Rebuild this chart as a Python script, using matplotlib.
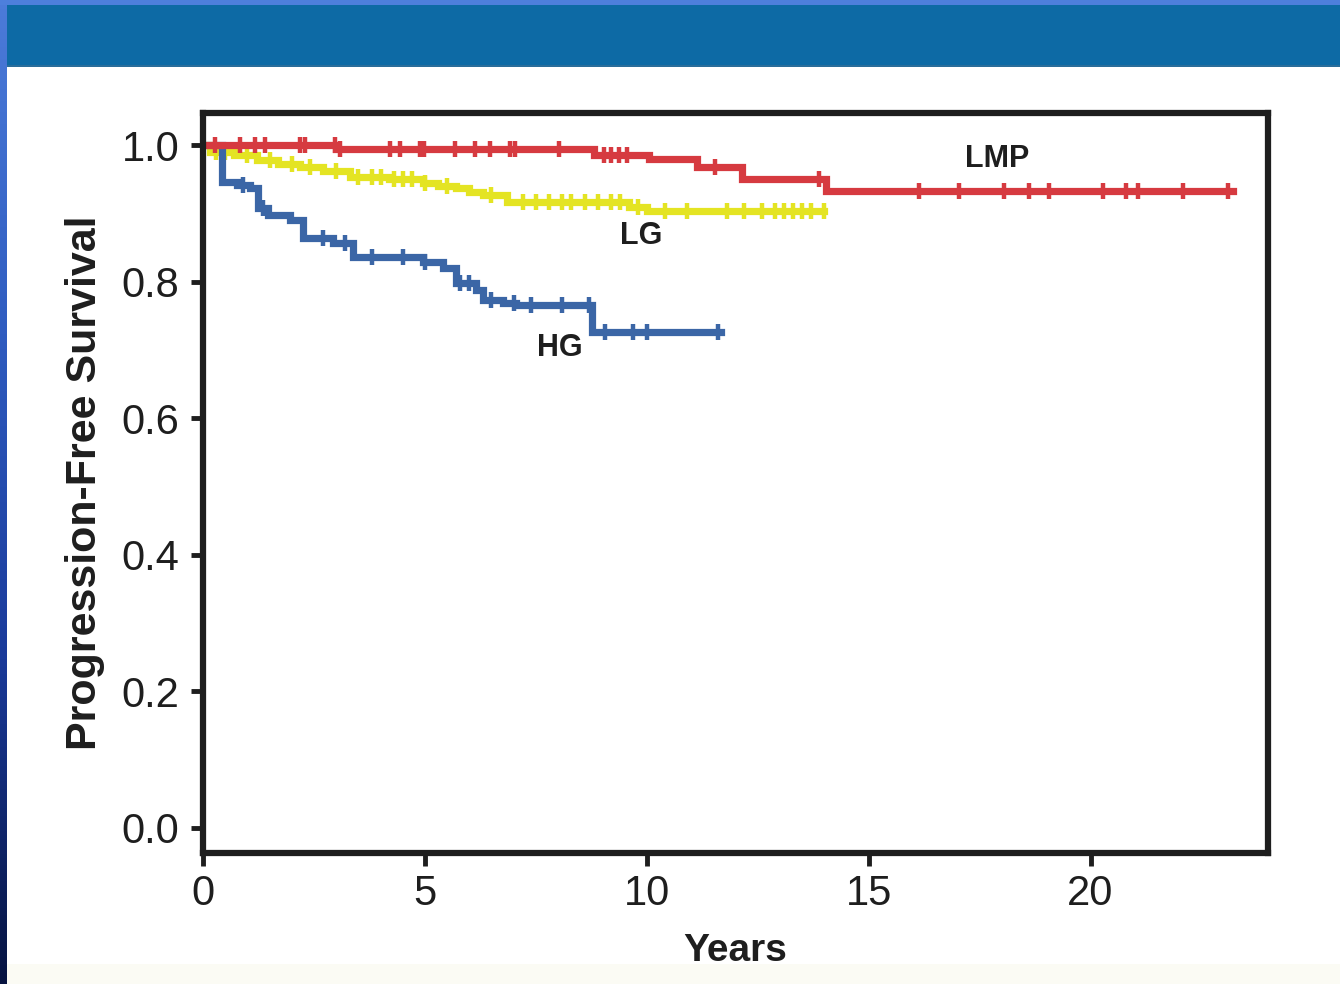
import numpy as np
import matplotlib
matplotlib.use('Agg')
import matplotlib.pyplot as plt
from matplotlib.patches import Rectangle
from matplotlib.colors import LinearSegmentedColormap

plt.rcParams['font.family'] = ['Liberation Sans', 'DejaVu Sans']

# step curves (time in years, survival after each step)
lmp_t = [0, 3.0, 8.82, 10.06, 11.14, 12.15, 14.04]
lmp_s = [1.0, 0.994, 0.985, 0.980, 0.968, 0.950, 0.933]
lmp_end = 23.2
lmp_cens = [0.27, 0.83, 1.17, 1.40, 2.18, 2.30, 2.97, 3.08, 4.21, 4.43, 4.88, 4.99,
            5.67, 6.12, 6.46, 6.91, 7.02, 8.03, 9.04, 9.20, 9.38, 9.56, 11.54, 13.88,
            16.13, 17.03, 18.04, 18.61, 19.06, 20.29, 20.79, 21.08, 22.09, 23.1]

lg_t = [0, 0.16, 0.7, 1.21, 1.7, 2.18, 2.7, 3.31, 4.2, 4.95, 5.3, 5.71, 6.0, 6.30, 6.84, 9.6, 10.0]
lg_s = [1.0, 0.990, 0.985, 0.978, 0.973, 0.968, 0.962, 0.953, 0.950, 0.944, 0.940,
        0.937, 0.932, 0.927, 0.917, 0.910, 0.904]
lg_end = 14.0
lg_cens = [0.3, 0.5, 1.0, 1.5, 2.0, 2.4, 3.0, 3.5, 3.8, 4.0, 4.3, 4.5, 4.7, 5.0, 5.5,
           6.5, 7.2, 7.5, 7.8, 8.1, 8.3, 8.6, 8.9, 9.2, 9.4, 9.8, 10.4, 10.9, 11.8,
           12.2, 12.6, 12.9, 13.1, 13.3, 13.5, 13.7, 14.0]

hg_t = [0, 0.43, 0.76, 1.06, 1.24, 1.46, 1.96, 2.25, 2.92, 3.37, 4.95, 5.40, 5.71,
        6.16, 6.30, 6.75, 7.06, 8.77]
hg_s = [1.0, 0.946, 0.941, 0.937, 0.908, 0.897, 0.890, 0.864, 0.857, 0.836, 0.829,
        0.820, 0.798, 0.788, 0.773, 0.769, 0.766, 0.726]
hg_end = 11.68
hg_cens = [0.9, 1.35, 2.7, 3.2, 3.8, 4.5, 5.0, 5.8, 6.0, 6.5, 7.0, 7.4, 8.1, 8.7,
           9.05, 9.7, 10.0, 11.6]

labels = ['LMP', 'LG', 'HG']
label_pos = [(17.9, 0.980), (9.88, 0.867), (8.03, 0.703)]

xticks = [0, 5, 10, 15, 20]
yticks = [0.0, 0.2, 0.4, 0.6, 0.8, 1.0]

RED = '#d63a40'
YELLOW = '#e4e423'
BLUE = '#3b66a6'
INK = '#1e1e1e'

fig = plt.figure(figsize=(13.4, 9.84), dpi=100)
fig.patch.set_facecolor('white')

# slide decoration: top strip, banner, left gradient edge, bottom band
fig.add_artist(Rectangle((0, 1 - 5/984), 1, 5/984, transform=fig.transFigure,
                         color='#4d7fdc', lw=0))
fig.add_artist(Rectangle((7/1340, 1 - 65/984), 1, 60/984, transform=fig.transFigure,
                         color='#0d6aa5', lw=0))
fig.add_artist(Rectangle((7/1340, 1 - 67/984), 1, 2/984, transform=fig.transFigure,
                         color='#2a6d9a', lw=0))
fig.add_artist(Rectangle((7/1340, 0), 1, 20/984, transform=fig.transFigure,
                         color='#fbfbf4', lw=0))
edge = fig.add_axes([0, 0, 7/1340, 1 - 5/984])
cmap = LinearSegmentedColormap.from_list('edge', ['#061340', '#1a3a9a', '#2f5cc0', '#4b7bd9'])
edge.imshow(np.linspace(0, 1, 256).reshape(-1, 1), aspect='auto', cmap=cmap, origin='lower')
edge.axis('off')

ax = fig.add_axes([203/1340, 131/984, (1268-203)/1340, (853-113)/984])
ax.set_facecolor('white')


def surv_at(t, times, surv):
    idx = np.searchsorted(times, t, side='right') - 1
    return np.array(surv)[idx]


curves = [(lg_t, lg_s, lg_end, lg_cens, YELLOW),
          (hg_t, hg_s, hg_end, hg_cens, BLUE),
          (lmp_t, lmp_s, lmp_end, lmp_cens, RED)]
for times, surv, end, cens, col in curves:
    xs = list(times) + [end]
    ys = list(surv) + [surv[-1]]
    ax.step(xs, ys, where='post', color=col, lw=5.2, solid_joinstyle='miter')
    ax.plot(cens, surv_at(cens, times, surv), ls='none', marker='|',
            color=col, ms=12, mew=3.2)

for txt, (x, y) in zip(labels, label_pos):
    ax.text(x, y, txt, fontsize=22, fontweight='bold', color=INK,
            ha='center', va='center')

ax.set_xlim(0, 24)
ax.set_ylim(-0.037, 1.047)
ax.set_xticks(xticks)
ax.set_xticklabels([str(v) for v in xticks])
ax.set_yticks(yticks)
ax.set_yticklabels(['%.1f' % v for v in yticks])
ax.tick_params(axis='both', direction='out', length=9, width=3.5, color=INK,
               labelsize=30, labelcolor=INK)
ax.tick_params(axis='x', pad=6)
ax.tick_params(axis='y', pad=8)
for sp in ax.spines.values():
    sp.set_linewidth(4.5)
    sp.set_color(INK)

ax.set_xlabel('Years', fontsize=28, fontweight='bold', color=INK, labelpad=14)
ax.set_ylabel('Progression-Free Survival', fontsize=31, fontweight='bold',
              color=INK, labelpad=12)

fig.savefig('out.png', dpi=100)
